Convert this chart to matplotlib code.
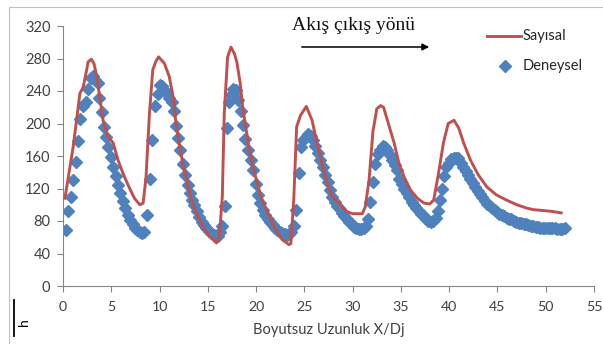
import numpy as np
import matplotlib
matplotlib.use("Agg")
import matplotlib.pyplot as plt
from matplotlib.patches import Rectangle
from matplotlib.lines import Line2D

# Sayisal (numerical) curve
sayisal_x = [0.2, 0.55, 1.05, 1.4, 1.75, 2.1, 2.45, 2.6, 2.95, 3.2, 3.5, 3.8, 4.15, 4.65,
             5.2, 5.7, 6.2, 6.75, 7.4, 7.95, 8.3, 8.6, 8.95, 9.3, 9.6, 9.9, 10.5, 11.0,
             11.4, 11.7, 12.1, 12.4, 12.9, 13.4, 14.0, 14.5, 15.2, 15.9, 16.2, 16.5, 16.7,
             17.05, 17.4, 17.75, 18.0, 18.35, 18.6, 18.95, 19.3, 19.8, 20.5, 21.2, 22.05,
             22.7, 23.4, 23.6, 23.9, 24.2, 24.6, 25.2, 25.8, 26.3, 26.9, 27.4, 27.9, 28.6,
             29.3, 30.0, 31.0, 31.3, 31.7, 32.1, 32.5, 32.9, 33.2, 33.7, 34.3, 34.8, 35.3,
             36.0, 36.7, 37.4, 38.0, 38.4, 38.9, 39.4, 39.9, 40.5, 41.0, 41.5, 42.2, 43.0,
             43.9, 44.9, 45.9, 47.0, 48.0, 48.7, 49.6, 50.5, 51.6]
sayisal_y = [108, 134, 171, 204, 237, 245, 266, 276, 279, 274, 258, 233, 204, 184,
             176, 155, 139, 124, 108, 100, 102, 134, 212, 266, 276, 282, 274, 258,
             233, 200, 171, 151, 126, 102, 85, 73, 61, 53, 61, 110, 212,
             282, 294, 286, 276, 250, 221, 194, 167, 141, 110, 90, 69,
             57, 51, 52, 106, 196, 210, 221, 204, 176, 147, 126, 110, 102,
             92, 89, 89, 97, 130, 190, 218, 222, 220, 200, 176, 151, 135,
             118, 108, 102, 101, 106, 139, 176, 200, 204, 194, 176, 155, 137,
             122, 112, 106, 100, 96, 94, 93, 92, 90]

# Deneysel (experimental) points
deneysel_x = [0.3, 0.5, 0.8, 1.05, 1.3, 1.55, 1.8, 2.1, 2.35, 2.6, 2.85, 3.1, 3.35, 3.6,
              3.7, 4.0, 4.25, 4.45, 4.7, 4.95, 5.2, 5.45, 5.7, 5.95, 6.2, 6.45, 6.7, 6.95,
              7.2, 7.45, 7.7, 7.95, 8.2, 8.4, 8.75, 9.0, 9.25, 9.5, 9.8, 10.05, 10.25, 10.5,
              10.75, 11.0, 11.25, 11.45, 11.7, 11.95, 12.15, 12.4, 12.65, 12.9, 13.15, 13.4,
              13.6, 13.85, 14.1, 14.35, 14.6, 14.85, 15.1, 15.35, 15.6, 15.85, 16.1, 16.3,
              16.5, 16.75, 16.95, 17.2, 17.45, 17.65, 17.9, 18.1, 18.4, 18.65, 18.9, 19.2,
              19.45, 19.7, 19.95, 20.2, 20.45, 20.7, 20.95, 21.2, 21.45, 21.7, 21.95, 22.2,
              22.45, 22.7, 22.95, 23.2, 23.45, 23.65, 23.9, 24.1, 24.4, 24.65, 24.9, 25.15,
              25.4, 25.65, 25.9, 26.15, 26.4, 26.65, 26.9, 27.15, 27.4, 27.65, 27.9, 28.15,
              28.4, 28.65, 28.9, 29.15, 29.4, 29.65, 29.9, 30.15, 30.4, 30.65, 30.9, 31.15,
              31.4, 31.6, 31.85, 32.1, 32.35, 32.6, 32.85, 33.1, 33.35, 33.6, 33.85, 34.1,
              34.35, 34.6, 34.85, 35.1, 35.35, 35.6, 35.85, 36.1, 36.35, 36.6, 36.85, 37.1,
              37.35, 37.6, 37.85, 38.1, 38.35, 38.6, 38.85, 39.05, 39.25, 39.45, 39.7, 39.95,
              40.2, 40.45, 40.7, 40.95, 41.2, 41.45, 41.7, 41.95, 42.2, 42.45, 42.7, 42.95,
              43.2, 43.45, 43.7, 43.95, 44.2, 44.45, 44.7, 44.95, 45.2, 45.45, 45.7, 45.95,
              46.2, 46.45, 46.7, 46.95, 47.2, 47.45, 47.7, 47.95, 48.2, 48.45, 48.7, 48.95,
              49.2, 49.45, 49.7, 49.95, 50.2, 50.45, 50.7, 50.95, 51.2, 51.45, 51.7, 52.0]
deneysel_y = [69, 92, 110, 131, 153, 178, 205, 222, 226, 242, 256, 259, 253, 250,
              232, 214, 196, 183, 171, 159, 147, 135, 124, 114, 105, 96, 88, 81,
              76, 72, 69, 66, 65, 67, 87, 132, 180, 221, 236, 247, 246, 241,
              237, 232, 226, 216, 197, 182, 167, 150, 137, 124, 114, 106,
              100, 92, 85, 79, 75, 71, 68, 65, 63, 61, 62, 66,
              74, 98, 194, 227, 235, 243, 241, 229, 216, 198, 181, 168,
              155, 143, 126, 112, 102, 94, 88, 83, 79, 75, 72, 69,
              67, 65, 64, 63, 64, 66, 74, 94, 139, 171, 180, 183,
              187, 185, 180, 172, 164, 155, 146, 137, 128, 118, 110, 104,
              99, 95, 90, 86, 82, 79, 76, 73, 71, 70, 70, 71,
              74, 82, 104, 128, 150, 162, 168, 172, 171, 167, 161, 155,
              149, 143, 132, 125, 119, 114, 109, 104, 100, 96, 92, 89,
              86, 83, 80, 79, 80, 84, 92, 106, 120, 135, 146, 152,
              156, 158, 158, 157, 152, 147, 142, 137, 132, 127, 122, 117,
              113, 109, 105, 101, 98, 96, 93, 91, 89, 87, 86, 84,
              83, 82, 80, 79, 78, 77, 76, 76, 75, 74, 74, 73,
              73, 72, 72, 72, 71, 71, 71, 71, 70, 70, 70, 71]

x_ticks = list(range(0, 60, 5))
y_ticks = list(range(0, 360, 40))

RED = '#C0504D'
BLUE = '#4F81BD'
GRAY = '#868686'

plt.rcParams['font.family'] = ['Lato', 'DejaVu Sans']

fig = plt.figure(figsize=(6.03, 3.44), dpi=100)
ax = fig.add_axes([63/603, 1 - 286/344, (594 - 63)/603, (286 - 26)/344])

ax.plot(deneysel_x, deneysel_y, linestyle='none', marker='D', ms=6.2,
        color=BLUE, zorder=2)
ax.plot(sayisal_x, sayisal_y, color=RED, lw=2.1, zorder=3)

ax.set_xlim(0, 55)
ax.set_ylim(0, 320)
ax.set_xticks(x_ticks)
ax.set_yticks(y_ticks)
for s in ['top', 'right']:
    ax.spines[s].set_visible(False)
for s in ['left', 'bottom']:
    ax.spines[s].set_color(GRAY)
    ax.spines[s].set_linewidth(0.8)
ax.tick_params(colors=GRAY, direction='out', length=4, width=0.8,
               labelcolor='#404040', labelsize=10.5)
ax.tick_params(axis='x', pad=7, labelsize=10.2)
ax.tick_params(axis='y', pad=5)
ax.set_xlabel('Boyutsuz Uzunluk X/Dj', fontsize=10.5, color='#404040', labelpad=7)

# direction annotation
fig.text(354/603, 1 - 26/344, 'Akış çıkış yönü', family='Liberation Serif',
         fontsize=14, ha='center', va='center', color='#111111')
ax.annotate('', xy=(432/603, 1 - 47/344), xytext=(299/603, 1 - 47/344),
            xycoords='figure fraction', textcoords='figure fraction',
            arrowprops=dict(arrowstyle='-|>', color='black', lw=1.1,
                            mutation_scale=10))

# legend (manual, like the Excel one)
fig.add_artist(Line2D([487/603, 521/603], [1 - 36/344, 1 - 36/344], color=RED, lw=2.1))
fig.text(523/603, 1 - 36/344, 'Sayısal', fontsize=10.5, va='center', color='#262626')
fig.add_artist(Line2D([505/603], [1 - 66/344], marker='D', ms=6.2, color=BLUE,
                      linestyle='none'))
fig.text(523/603, 1 - 66/344, 'Deneysel', fontsize=10.5, va='center', color='#262626')

# chart frame and the stray "h" at bottom left
fig.add_artist(Rectangle((9/603, -0.2), 1.2, 1.2 - 7/344, fill=False,
                         edgecolor='#BFBFBF', lw=0.8, transform=fig.transFigure))
fig.add_artist(Line2D([14/603, 14/603], [1 - 300/344, 1 - 336/344], color='black', lw=1.3))
fig.text(24/603, 1 - 322/344, 'h', rotation=90, fontsize=10, ha='center', va='center')

fig.savefig('out.png', dpi=100)
